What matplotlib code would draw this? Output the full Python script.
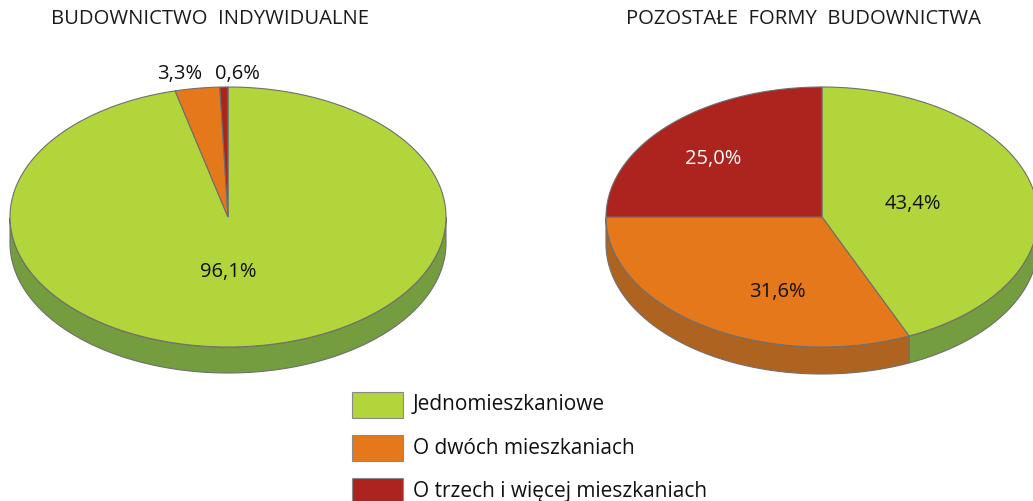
import numpy as np
import matplotlib.pyplot as plt
from matplotlib.patches import Polygon, Rectangle

# dane
categories = ['Jednomieszkaniowe', 'O dwóch mieszkaniach', 'O trzech i więcej mieszkaniach']
titles = ['BUDOWNICTWO  INDYWIDUALNE', 'POZOSTAŁE  FORMY  BUDOWNICTWA']
indywidualne = [96.1, 3.3, 0.6]
pozostale = [43.4, 31.6, 25.0]
labels_ind = ['96,1%', '3,3%', '0,6%']
labels_poz = ['43,4%', '31,6%', '25,0%']

top_colors = ['#B1D53B', '#E5781A', '#AD231E']
side_colors = ['#739D3F', '#AE6420', '#8A1C18']
edge = '#6F6F6F'
font = ['Open Sans', 'DejaVu Sans']

fig = plt.figure(figsize=(10.33, 5.01), dpi=100)
ax = fig.add_axes([0, 0, 1, 1])
ax.set_xlim(0, 1033)
ax.set_ylim(501, 0)
ax.axis('off')


def arc(cx, cy, rx, ry, t):
    return np.column_stack([cx + rx * np.cos(t), cy - ry * np.sin(t)])


# pseudo 3D pie: kolejnosc zgodnie z ruchem wskazowek zegara od godz. 12
def draw_pie(cx, cy, rx, ry, depth, values):
    fr = np.array(values) / sum(values)
    start = 90 - 360 * np.concatenate([[0], np.cumsum(fr)[:-1]])
    end = start - 360 * fr
    # boki
    for a0, a1, sc in zip(start, end, side_colors):
        t = np.radians(np.linspace(a0, a1, 400))
        mask = np.sin(t) < -1e-9
        idx = np.where(mask)[0]
        if len(idx) == 0:
            continue
        runs = np.split(idx, np.where(np.diff(idx) > 1)[0] + 1)
        for r in runs:
            pts = arc(cx, cy, rx, ry, t[r])
            low = pts[::-1] + [0, depth]
            ax.add_patch(Polygon(np.vstack([pts, low]), closed=True,
                                 facecolor=sc, edgecolor=edge, lw=0.8))
    # wierzch
    for a0, a1, tc in zip(start, end, top_colors):
        t = np.radians(np.linspace(a0, a1, 400))
        pts = np.vstack([[cx, cy], arc(cx, cy, rx, ry, t)])
        ax.add_patch(Polygon(pts, closed=True, facecolor=tc,
                             edgecolor=edge, lw=0.8))


draw_pie(228, 217, 218, 130, 26, indywidualne)
draw_pie(822, 217, 216, 130, 27, pozostale)

ax.text(210, 19, titles[0], ha='center', va='center', fontsize=14.6,
        family=font, color='#1a1a1a')
ax.text(803, 19, titles[1], ha='center', va='center', fontsize=14.6,
        family=font, color='#1a1a1a')

pos_ind = [(228, 272), (180, 74), (237, 74)]
for (x, y), s in zip(pos_ind, labels_ind):
    ax.text(x, y, s, ha='center', va='center', fontsize=14.5, family=font,
            color='#111111')

pos_poz = [(913, 204), (777, 292), (713, 159)]
lab_cols = ['#111111', '#111111', 'white']
for (x, y), s, c in zip(pos_poz, labels_poz, lab_cols):
    ax.text(x, y, s, ha='center', va='center', fontsize=14.5, family=font,
            color=c)

# legenda
for i, (name, c) in enumerate(zip(categories, top_colors)):
    y = 405 + 43 * i
    ax.add_patch(Rectangle((352, y - 13), 51, 26, facecolor=c,
                           edgecolor='#8a8a8a', lw=0.8))
    ax.text(413, y, name, ha='left', va='center', fontsize=15,
            family=font, color='#111111')

fig.savefig('out.png', dpi=100)
